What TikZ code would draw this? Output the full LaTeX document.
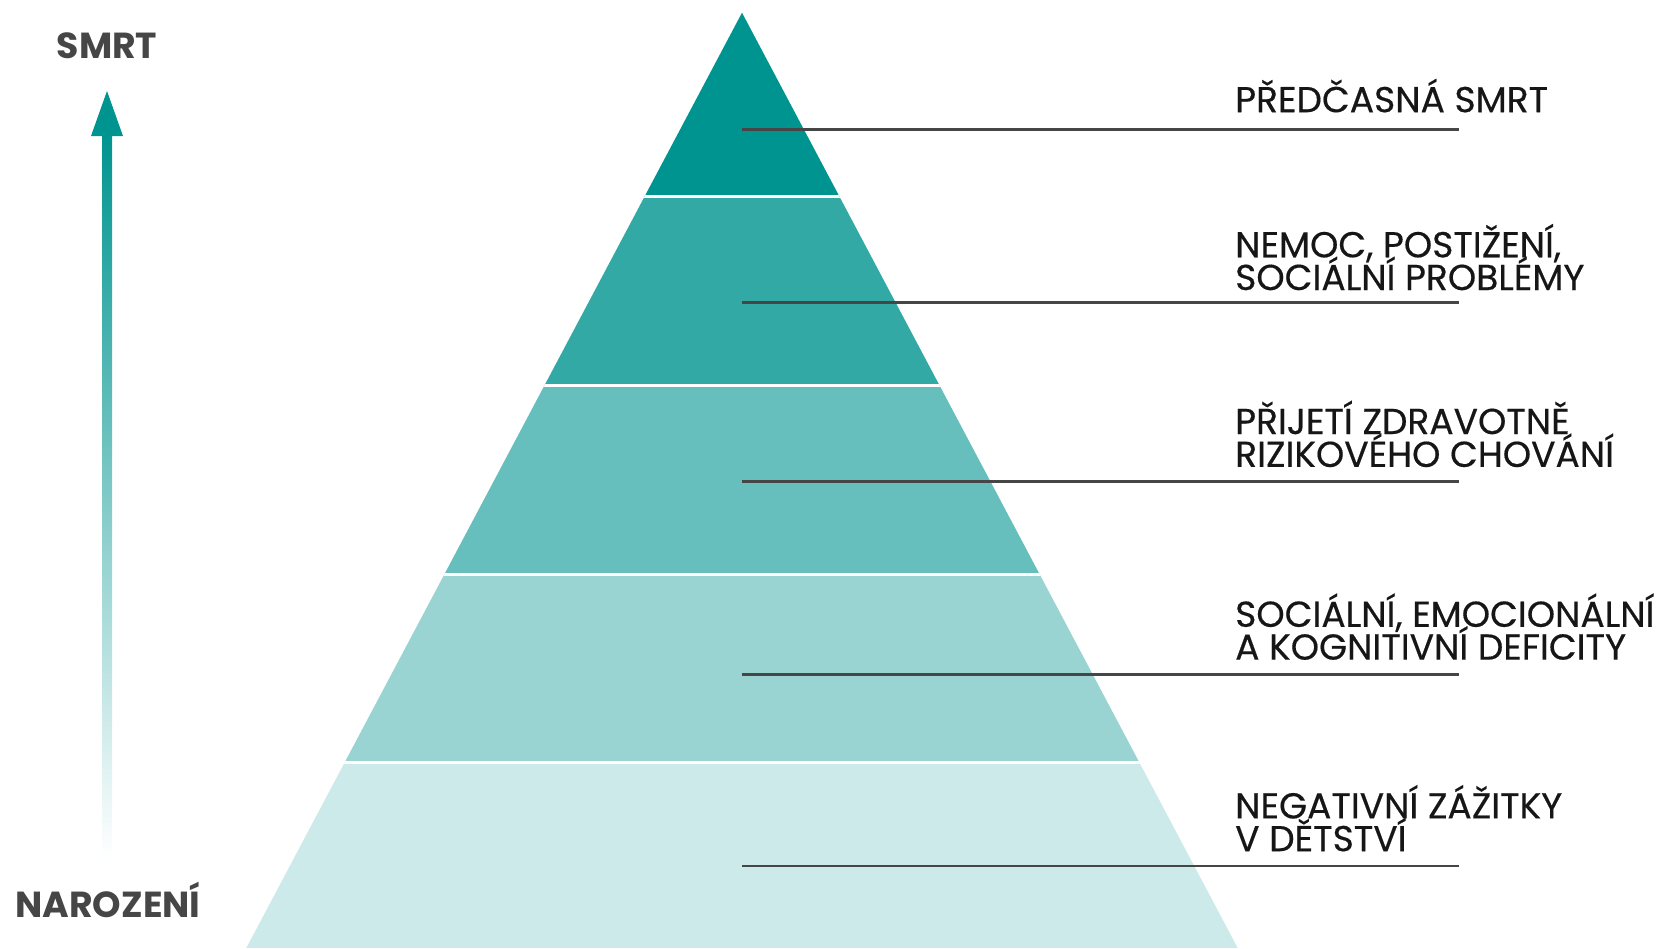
\documentclass[tikz,border=0pt]{standalone}
\usepackage{fontspec}
\setmainfont{Poppins}
\newfontfamily\labfont[FakeBold=0.4]{Poppins}
\definecolor{tealc}{RGB}{0,148,144}
\definecolor{labc}{RGB}{22,22,22}
\definecolor{sidec}{RGB}{70,70,70}
\definecolor{leadc}{RGB}{70,70,70}
\tikzset{
  lab/.style={font=\labfont\fontsize{10.25}{10.25}\selectfont, text=labc, inner sep=0pt, anchor=base west},
  side/.style={font=\bfseries\fontsize{10.3}{10.3}\selectfont, text=sidec, inner sep=0pt, anchor=base},
  leader/.style={draw=leadc, line width=0.75pt},
  gap/.style={draw=white, line width=0.9pt}
}
\begin{document}
\begin{tikzpicture}[x=0.01cm,y=-0.01cm]
\useasboundingbox (0,0) rectangle (1660,948);
% pyramid
\begin{scope}
\clip (742,12.7) -- (1237.7,948) -- (246.3,948) -- cycle;
\fill[tealc] (0,0) rectangle (1660,196.9);
\fill[tealc!80] (0,196.9) rectangle (1660,385.4);
\fill[tealc!60] (0,385.4) rectangle (1660,574.9);
\fill[tealc!40] (0,574.9) rectangle (1660,762.3);
\fill[tealc!20] (0,762.3) rectangle (1660,948);
\draw[gap] (0,196.9) -- (1660,196.9);
\draw[gap] (0,385.4) -- (1660,385.4);
\draw[gap] (0,574.9) -- (1660,574.9);
\draw[gap] (0,762.3) -- (1660,762.3);
\end{scope}
% leaders
\coordinate (a1) at (742,129.2); \coordinate (b1) at (1459,129.2);
\coordinate (a2) at (742,302.8); \coordinate (b2) at (1459,302.8);
\coordinate (a3) at (742,481.7); \coordinate (b3) at (1459,481.7);
\coordinate (a4) at (742,674.4); \coordinate (b4) at (1459,674.4);
\coordinate (a5) at (742,866.0); \coordinate (b5) at (1459,866.0);
\draw[leader] (a1) -- (b1);
\draw[leader] (a2) -- (b2);
\draw[leader] (a3) -- (b3);
\draw[leader] (a4) -- (b4);
\draw[leader] (a5) -- (b5);
% labels
\node[lab] (t1) at (1234.5,112.2) {PŘEDČASNÁ SMRT};
\node[lab] (t2a) at (1234.5,257.3) {NEMOC, POSTIŽENÍ,};
\node[lab] (t2b) at (1234.5,290.0) {SOCIÁLNÍ PROBLÉMY};
\node[lab] (t3a) at (1234.5,434.0) {PŘIJETÍ ZDRAVOTNĚ};
\node[lab] (t3b) at (1234.5,466.9) {RIZIKOVÉHO CHOVÁNÍ};
\node[lab] (t4a) at (1234.5,626.8) {SOCIÁLNÍ, EMOCIONÁLNÍ};
\node[lab] (t4b) at (1234.5,659.6) {A KOGNITIVNÍ DEFICITY};
\node[lab] (t5a) at (1234.5,818.4) {NEGATIVNÍ ZÁŽITKY};
\node[lab] (t5b) at (1234.5,851.2) {V DĚTSTVÍ};
% side arrow
\shade[top color=tealc, bottom color=white] (102,134) rectangle (112,858);
\fill[tealc] (107,91) -- (123,136) -- (91,136) -- cycle;
\node[side] (smrt) at (107,58.2) {SMRT};
\node[side] (nar) at (108,917) {NAROZENÍ};
\end{tikzpicture}
\end{document}
